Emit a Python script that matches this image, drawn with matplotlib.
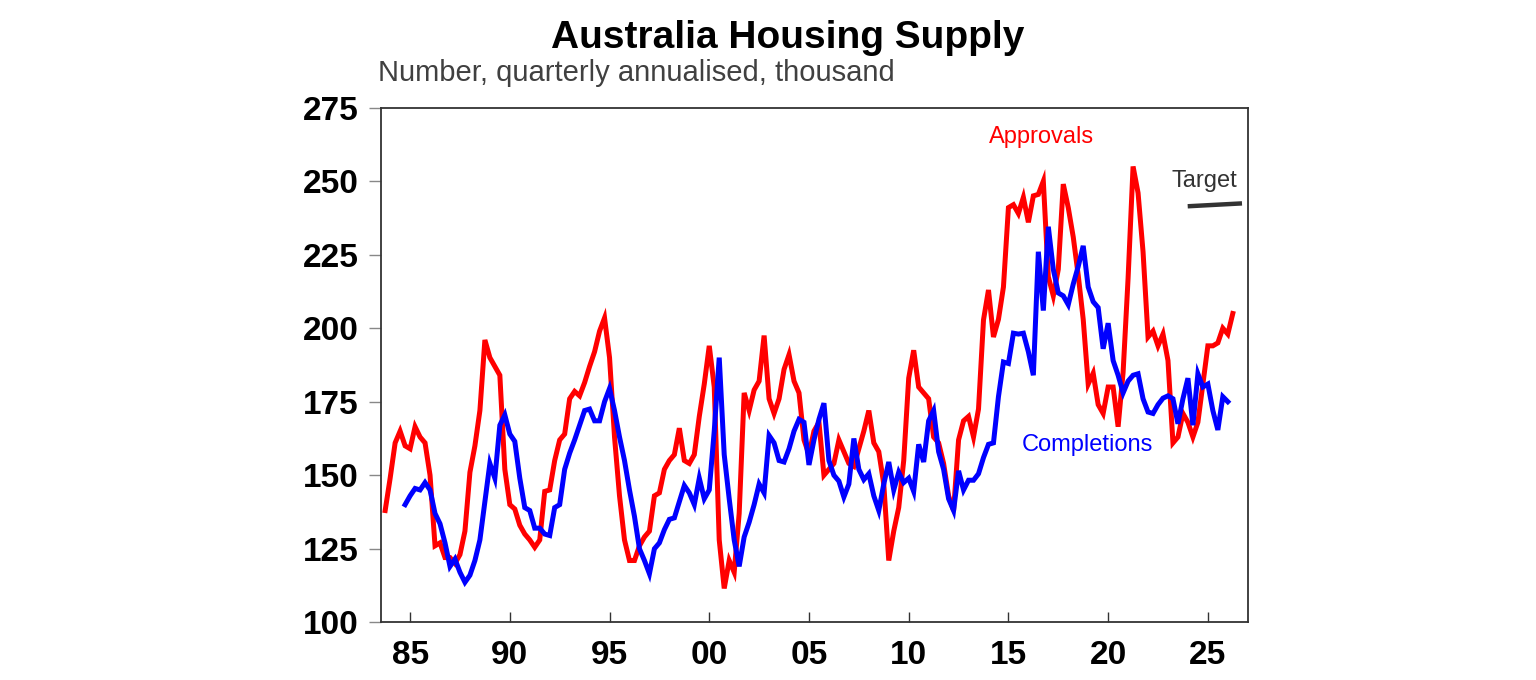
import numpy as np
import matplotlib
matplotlib.use("Agg")
import matplotlib.pyplot as plt

plt.rcParams['font.family'] = ['Liberation Sans', 'DejaVu Sans']

# quarterly annualised, thousand
approvals_start = 1983.75
approvals = [
    138, 149, 161, 165, 160, 159, 166.5, 163, 161, 150, 126, 127,
    122, 122, 120, 123, 131, 151, 160, 172, 196, 190, 187, 184,
    152, 140, 138.5, 133, 130, 128, 125.5, 128, 144.5, 145, 155, 162,
    164, 176, 178.5, 177, 181.5, 187, 192, 199, 203.5, 190, 163, 143,
    128, 121, 121, 126, 129, 131, 143, 144, 152, 155, 157, 166,
    155, 154, 157, 170, 181, 194, 180, 128, 111.5, 121, 117, 137,
    178, 172, 179, 182, 197.5, 176, 171, 176, 186, 191, 182, 178,
    162, 157, 165, 168, 150, 152, 154, 162, 158, 154, 153, 159,
    165, 172, 161, 158, 147, 121, 131, 139, 155, 183, 192.5, 180,
    178, 176, 163, 161, 154, 143, 138, 162, 168.5, 170, 163, 172.5,
    202.8, 213, 197, 203, 214, 241, 242, 239, 244.5, 236, 245, 245.5,
    250, 217.5, 211, 220, 249, 241, 231, 218, 203, 181, 184.7, 174,
    171, 180, 180, 166.5, 185, 217, 255, 246, 226, 197, 199, 194,
    198, 189, 161, 163, 171, 168, 163, 168, 181, 194, 194, 195,
    200, 198, 205,
]

completions_start = 1984.75
completions = [
    140, 143, 145.5, 145, 147.5, 145, 137, 133.5, 127, 119, 121.5, 117,
    113.6, 116, 121, 128, 141, 154, 149, 167, 170.5, 164, 161.5, 149,
    139, 138, 132, 132, 130, 129.5, 139, 140, 152, 157.5, 162, 167,
    172, 172.5, 168.5, 168.5, 175, 179.5, 172, 163, 155, 145, 136, 125,
    121, 116.5, 125, 127, 131.5, 135, 135.5, 141, 146.5, 144, 140, 149,
    142, 145, 165, 190, 157, 142, 128, 119, 129, 134, 140, 147,
    144, 163.5, 161, 155, 154.5, 159, 165, 169, 168, 153.5, 162, 169,
    174.5, 155, 150, 148, 142.6, 147, 162.5, 152, 148.5, 150.5, 143, 138,
    147, 154.5, 145, 151, 147.5, 149, 144.5, 160.5, 154.5, 168.5, 172, 158,
    152, 142, 138, 151.5, 145, 148.3, 148.3, 150.5, 156, 160.5, 161, 176.7,
    188.5, 188, 198.3, 198, 198.3, 192, 184, 226, 206, 234.5, 220, 212,
    211, 208, 215, 221, 228, 214, 209, 207, 193, 201.7, 189, 184,
    178, 182, 184, 184.5, 176, 171.5, 171, 174, 176.2, 177, 176, 167.5,
    176, 183, 167, 184.5, 180, 181, 172, 165.4, 176.7, 175,
]

target_years = [2024.1, 2026.6]
target_values = [241.5, 242.4]

year_ticks = [1985, 1990, 1995, 2000, 2005, 2010, 2015, 2020, 2025]
year_labels = ['85', '90', '95', '00', '05', '10', '15', '20', '25']
y_ticks = [100, 125, 150, 175, 200, 225, 250, 275]

ax_x = approvals_start + 0.25 * np.arange(len(approvals))
cx = completions_start + 0.25 * np.arange(len(completions))

fig = plt.figure(figsize=(15.36, 6.8), dpi=100)
ax = fig.add_axes([0.2479, 0.0849, 0.5647, 0.7568])

ax.plot(ax_x, approvals, color='#ff0000', lw=3.6, solid_joinstyle='miter')
ax.plot(cx, completions, color='#0000ff', lw=3.6, solid_joinstyle='miter')
ax.plot(target_years, target_values, color='#333333', lw=3.2)

ax.text(2016.65, 265, 'Approvals', color='#ff0000', fontsize=17,
        ha='center', va='center')
ax.text(2018.95, 160.3, 'Completions', color='#0000ff', fontsize=17,
        ha='center', va='center')
ax.text(2024.8, 250, 'Target', color='#333333', fontsize=17,
        ha='center', va='center')

ax.set_xlim(1983.53, 2027.02)
ax.set_ylim(100, 275)
ax.set_xticks(year_ticks)
ax.set_xticklabels(year_labels)
ax.set_yticks(y_ticks)

ax.tick_params(axis='x', direction='in', length=7, width=1, pad=13,
               labelsize=24, color='#333333')
ax.tick_params(axis='y', direction='out', length=9, width=1, pad=7,
               labelsize=24, color='#888888')
for lab in ax.get_xticklabels() + ax.get_yticklabels():
    lab.set_fontweight('bold')

for sp in ax.spines.values():
    sp.set_color('#333333')
    sp.set_linewidth(1.3)

fig.text(0.5127, 0.944, 'Australia Housing Supply', fontsize=28,
         fontweight='bold', ha='center', va='center')
fig.text(0.2461, 0.893, 'Number, quarterly annualised, thousand',
         fontsize=21, color='#404040', ha='left', va='center')

fig.savefig('out.png', dpi=100)
